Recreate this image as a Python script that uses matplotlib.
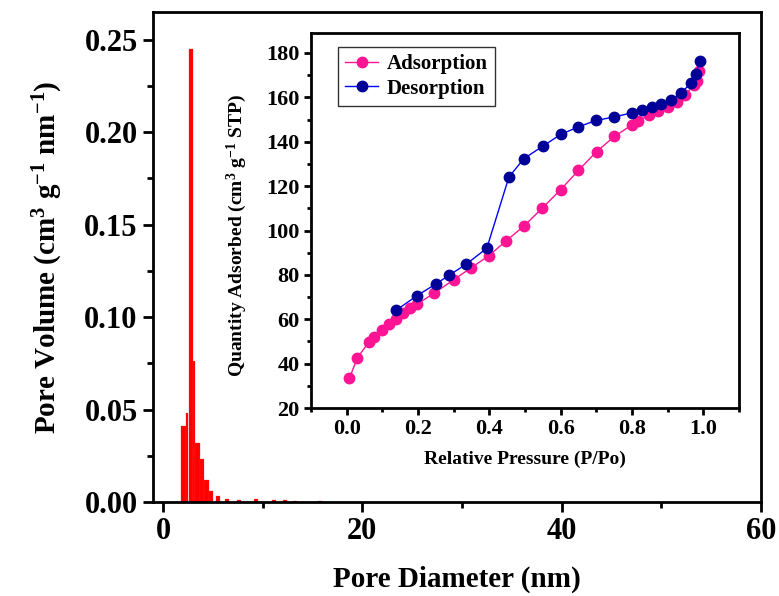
import matplotlib
matplotlib.use("Agg")
import matplotlib.pyplot as plt
from matplotlib.ticker import MultipleLocator

plt.rcParams['font.family'] = ['Liberation Serif', 'DejaVu Serif']
plt.rcParams['font.weight'] = 'bold'
plt.rcParams['mathtext.fontset'] = 'custom'
plt.rcParams['mathtext.rm'] = 'Liberation Serif:bold'
plt.rcParams['mathtext.it'] = 'Liberation Serif:bold'
plt.rcParams['mathtext.bf'] = 'Liberation Serif:bold'

# Pore size distribution (BJH)
pore_diam = [2.05, 2.43, 2.77, 3.10, 3.46, 3.90, 4.35, 4.80, 5.50, 6.40, 7.60, 9.30, 11.10, 12.20, 13.20, 15.80]
pore_width = [0.50, 0.26, 0.40, 0.27, 0.44, 0.44, 0.46, 0.46, 0.40, 0.40, 0.40, 0.40, 0.40, 0.40, 0.40, 0.40]
pore_vol = [0.041, 0.048, 0.245, 0.076, 0.032, 0.023, 0.012, 0.006, 0.003, 0.0018, 0.0012, 0.0018, 0.0012, 0.0009, 0.0006, 0.0005]

# Isotherm
ads_p = [0.008, 0.030, 0.062, 0.076, 0.100, 0.119, 0.139, 0.158, 0.178, 0.198, 0.245, 0.300, 0.350, 0.399,
         0.447, 0.497, 0.548, 0.600, 0.650, 0.701, 0.751, 0.799, 0.817, 0.848, 0.874, 0.900, 0.925, 0.949,
         0.973, 0.982, 0.988]
ads_q = [33.5, 42.6, 49.7, 51.8, 55.0, 57.9, 60.0, 62.6, 64.9, 66.9, 71.7, 77.8, 83.3, 88.7,
         95.3, 102.0, 110.0, 118.4, 127.1, 135.6, 142.4, 147.5, 149.3, 152.0, 153.8, 155.6, 158.0, 161.0,
         165.5, 167.6, 172.0]
des_p = [0.991, 0.979, 0.966, 0.937, 0.909, 0.882, 0.855, 0.828, 0.799, 0.751, 0.699, 0.650, 0.600,
         0.550, 0.497, 0.455, 0.393, 0.335, 0.287, 0.251, 0.198, 0.139]
des_q = [176.6, 170.6, 166.5, 161.9, 158.9, 157.1, 155.6, 154.4, 153.0, 151.2, 149.6, 146.7, 143.3,
         138.0, 132.4, 124.1, 92.0, 84.8, 79.8, 76.0, 70.7, 64.1]

fig = plt.figure(figsize=(7.79, 5.96), dpi=100)
ax = fig.add_axes([0.1964, 0.1577, 0.7806, 0.8223])
ax.bar(pore_diam, pore_vol, width=pore_width, color='#FF0000', edgecolor='#FF3030', linewidth=0.2)
ax.set_xlim(-1, 60)
ax.set_ylim(0, 0.265)
ax.xaxis.set_major_locator(MultipleLocator(20))
ax.xaxis.set_minor_locator(MultipleLocator(10))
ax.yaxis.set_major_locator(MultipleLocator(0.05))
ax.yaxis.set_minor_locator(MultipleLocator(0.025))
ax.yaxis.set_major_formatter(matplotlib.ticker.FormatStrFormatter('%.2f'))
for s in ax.spines.values():
    s.set_linewidth(2)
ax.tick_params(which='both', direction='out', width=2, top=False, right=False)
ax.tick_params(which='major', length=7, labelsize=22, pad=4)
ax.tick_params(which='minor', length=4)
ax.set_xlabel('Pore Diameter (nm)', fontsize=21, fontweight='bold', labelpad=14)
ax.set_ylabel('Pore Volume (cm$^{3}$ g$^{-1}$ nm$^{-1}$)', fontsize=21, fontweight='bold', labelpad=14)

ins = fig.add_axes([0.3992, 0.3154, 0.5494, 0.6292])
ins.plot(ads_p, ads_q, '-o', color='#FF1493', mfc='#FF1493', mec='#FF1493', lw=1, ms=7.5, label='Adsorption')
ins.plot(des_p, des_q, '-o', color='#0000FF', mfc='#000099', mec='#000099', lw=1, ms=7.5, label='Desorption')
ins.set_xlim(-0.1, 1.1)
ins.set_ylim(20, 189)
ins.xaxis.set_major_locator(MultipleLocator(0.2))
ins.xaxis.set_minor_locator(MultipleLocator(0.1))
ins.yaxis.set_major_locator(MultipleLocator(20))
ins.yaxis.set_minor_locator(MultipleLocator(10))
ins.xaxis.set_major_formatter(matplotlib.ticker.FormatStrFormatter('%.1f'))
for s in ins.spines.values():
    s.set_linewidth(2)
ins.tick_params(which='both', direction='out', width=2, top=False, right=False)
ins.tick_params(which='major', length=5, labelsize=16, pad=3)
ins.tick_params(which='minor', length=3)
ins.set_xlabel('Relative Pressure (P/Po)', fontsize=14, fontweight='bold', labelpad=8)
ins.set_ylabel('Quantity Adsorbed (cm$^{3}$ g$^{-1}$ STP)', fontsize=14, fontweight='bold')
ins.yaxis.set_label_coords(-0.145, 0.46)
leg = ins.legend(loc='upper left', bbox_to_anchor=(0.038, 0.99), fontsize=15, frameon=True, fancybox=False,
                 edgecolor='black', handlelength=1.6, borderpad=0.35, labelspacing=0.2, handletextpad=0.4)
leg.get_frame().set_linewidth(1)
for t in leg.get_texts():
    t.set_fontweight('bold')

fig.savefig('out.png', dpi=100)
